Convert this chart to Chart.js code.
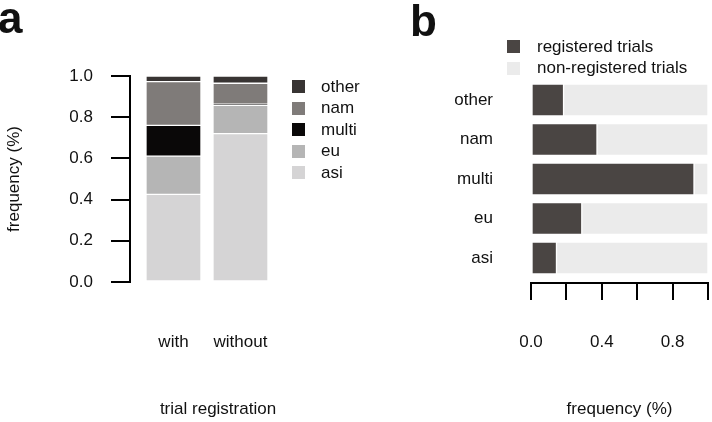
<!DOCTYPE html>
<html>
<head>
<meta charset="utf-8">
<script src="https://cdn.jsdelivr.net/npm/chart.js@4.4.0/dist/chart.umd.min.js"></script>
<style>
  body { margin: 0; background: #fff; }
  #wrap { position: relative; width: 712px; height: 422px; overflow: hidden;
          font-family: "Liberation Sans", Arial, sans-serif; color: #111; }
  canvas { position: absolute; top: 0; }
  #chartA { left: 0; }
  #chartB { left: 400px; }
  .tag { position: absolute; font-weight: bold; font-size: 44px; line-height: 44px; }
  .legend { position: absolute; font-size: 17px; }
  .legend div { display: flex; align-items: center; height: 21.5px; white-space: nowrap; }
  .legend .sw { display: inline-block; width: 13px; height: 13px; }
</style>
</head>
<body>
<div id="wrap">
  <canvas id="chartA" width="310" height="422"></canvas>
  <canvas id="chartB" width="312" height="422"></canvas>
  <div class="tag" style="left:-2px; top:-4px;">a</div>
  <div class="tag" style="left:410px; top:-1px;">b</div>
  <div class="legend" id="legendA" style="left:292px; top:76px;"></div>
  <div class="legend" id="legendB" style="left:507px; top:36px;"></div>
</div>
<script>
/* panel a: share of each region, with / without trial registration */
const groups = ['with', 'without'];
const regions = ['asi', 'eu', 'multi', 'nam', 'other'];
const asi = [0.425, 0.720];
const eu = [0.186, 0.138];
const multi = [0.149, 0.005];
const nam = [0.213, 0.102];
const other = [0.027, 0.035];
const regionColors = ['#d5d4d5', '#b5b5b5', '#0a0808', '#7f7b79', '#383433'];
const yTicksA = ['0.0', '0.2', '0.4', '0.6', '0.8', '1.0'];

/* panel b: registered share per region */
const registered = [0.144, 0.287, 0.921, 0.373, 0.184];
const nonRegistered = [0.856, 0.713, 0.079, 0.627, 0.816];
const seriesB = ['registered trials', 'non-registered trials'];
const seriesColorsB = ['#4a4543', '#ebebeb'];
const xTicksB = ['0.0', '', '0.4', '', '0.8', ''];

Chart.defaults.font.family = '"Liberation Sans", Arial, sans-serif';
Chart.defaults.font.size = 17;
Chart.defaults.color = '#111';
Chart.defaults.animation = false;

const valuesA = [asi, eu, multi, nam, other];

// x scales: fixed height, and no extra side padding for the tick labels
const fixX = h => s => { s.height = h; s.paddingLeft = 0; s.paddingRight = 0; };

const chartA = new Chart(document.getElementById('chartA'), {
    type: 'bar',
    data: {
        datasets: regions.map((r, k) => ({
            label: r,
            data: groups.map((g, i) => ({ x: i + 1, y: valuesA[k][i] })),
            backgroundColor: regionColors[k],
            borderColor: '#fff',
            borderWidth: 1,
            borderSkipped: false,
            barThickness: 55
        }))
    },
    options: {
        responsive: false,
        layout: { padding: { top: 76, right: 4, left: 0, bottom: 0 } },
        plugins: { legend: { display: false }, tooltip: { enabled: false } },
        scales: {
            x: {
                type: 'linear',
                stacked: true,
                offset: false,
                min: 0.351,
                max: 2.978,
                afterBuildTicks: s => { s.ticks = groups.map((g, i) => ({ value: i + 1 })); },
                afterFit: fixX(140),
                ticks: { padding: 50, callback: v => groups[v - 1] },
                grid: { display: false, drawTicks: false, offset: false },
                border: { display: false },
                title: { display: true, text: 'trial registration', padding: { top: 0, bottom: 2 } }
            },
            y: {
                stacked: true,
                min: 0,
                max: 1,
                afterFit: s => { s.width = 130; },
                ticks: { stepSize: 0.2, padding: 18, callback: (v, i) => yTicksA[i] },
                grid: { drawOnChartArea: false, drawTicks: true, tickLength: 19, color: '#000', lineWidth: 2 },
                border: { display: true, color: '#000', width: 2 },
                title: { display: true, text: 'frequency (%)', padding: { top: 4, bottom: 0 } }
            }
        }
    }
});

const valuesB = [registered, nonRegistered];

const chartB = new Chart(document.getElementById('chartB'), {
    type: 'bar',
    data: {
        datasets: seriesB.map((s, k) => ({
            label: s,
            data: regions.map((r, i) => ({ x: valuesB[k][i], y: i + 1 })),
            backgroundColor: seriesColorsB[k],
            borderColor: '#fff',
            borderWidth: 1,
            borderSkipped: false,
            barThickness: 32
        }))
    },
    options: {
        indexAxis: 'y',
        responsive: false,
        layout: { padding: { top: 80, right: 4, left: 0, bottom: 0 } },
        plugins: { legend: { display: false }, tooltip: { enabled: false } },
        scales: {
            x: {
                stacked: true,
                min: 0,
                max: 1,
                afterFit: fixX(139),
                ticks: { stepSize: 0.2, padding: 32, autoSkip: false, maxRotation: 0, callback: (v, i) => xTicksB[i] },
                grid: { drawOnChartArea: false, drawTicks: true, tickLength: 17, color: '#000', lineWidth: 2 },
                border: { display: true, color: '#000', width: 2 },
                title: { display: true, text: 'frequency (%)', padding: { top: 0, bottom: 2 } }
            },
            y: {
                type: 'linear',
                stacked: true,
                offset: false,
                min: 0.367,
                max: 5.506,
                afterBuildTicks: s => { s.ticks = regions.map((r, i) => ({ value: i + 1 })); },
                afterFit: s => { s.width = 131; },
                ticks: { padding: 38, callback: v => regions[v - 1] },
                grid: { display: false, drawTicks: false, offset: false },
                border: { display: false }
            }
        }
    }
});

/* html legends, built from the datasets */
function buildLegend(el, chart, reverse) {
    let sets = chart.data.datasets.slice();
    if (reverse) sets.reverse();
    el.innerHTML = sets.map(d =>
        '<div><span class="sw" style="background:' + d.backgroundColor + '"></span>' +
        '<span style="margin-left:' + (reverse ? 16 : 17) + 'px">' + d.label + '</span></div>'
    ).join('');
}
buildLegend(document.getElementById('legendA'), chartA, true);
buildLegend(document.getElementById('legendB'), chartB, false);
</script>
</body>
</html>
